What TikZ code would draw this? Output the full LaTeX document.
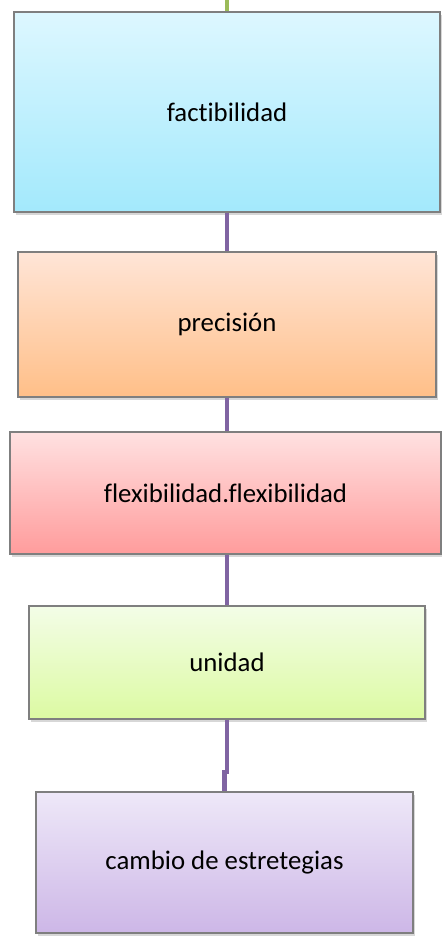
\documentclass[tikz,border=0pt]{standalone}
\usepackage{fontspec}
\setmainfont{Carlito}[Ligatures=NoCommon]
\usetikzlibrary{shadows}
\definecolor{linkpurple}{HTML}{8064A2}
\definecolor{linkgreen}{HTML}{9BBB59}
\definecolor{boxline}{HTML}{7F7F7F}
\begin{document}
\begin{tikzpicture}[x=0.5pt,y=-0.5pt,
		box/.style={draw=boxline,line width=0.6pt,inner sep=0pt,
			font=\fontsize{13.4}{16}\selectfont,
			drop shadow={shadow xshift=1.2pt,shadow yshift=-1.4pt,fill=black!35,opacity=0.45}},
		link/.style={line width=2.2pt,color=linkpurple}]
		\useasboundingbox (0,0) rectangle (441,941);
		\node[box,minimum width=213pt,minimum height=100pt,top color={rgb,255:red,221;green,247;blue,255},bottom color={rgb,255:red,163;green,233;blue,252}] (fact) at (227,112) {factibilidad};
		\node[box,minimum width=209pt,minimum height=72.5pt,top color={rgb,255:red,255;green,229;blue,215},bottom color={rgb,255:red,255;green,191;blue,136}] (prec) at (227,324.5) {precisión};
		\node[box,minimum width=215.5pt,minimum height=61pt,top color={rgb,255:red,255;green,225;blue,225},bottom color={rgb,255:red,255;green,156;blue,156}] (flex) at (225.5,493) {flexibilidad.flexibilidad};
		\node[box,minimum width=198pt,minimum height=56.5pt,top color={rgb,255:red,243;green,253;blue,231},bottom color={rgb,255:red,220;green,250;blue,162}] (unid) at (227,662.5) {unidad};
		\node[box,minimum width=188.5pt,minimum height=70.5pt,top color={rgb,255:red,238;green,232;blue,248},bottom color={rgb,255:red,205;green,183;blue,231}] (camb) at (224.5,862.5) {cambio de estretegias};
		\coordinate (top) at (227,0);
		\coordinate (jog) at (227,772);
		\draw[link,color=linkgreen] (top) -- (fact.north);
		\draw[link] (fact.south) -- (prec.north);
		\draw[link] (prec.south) -- (prec.south |- flex.north);
		\draw[link] (flex.south -| unid.north) -- (unid.north);
		\draw[link] (unid.south) -- (jog) -| (camb.north);
\end{tikzpicture}
\end{document}
